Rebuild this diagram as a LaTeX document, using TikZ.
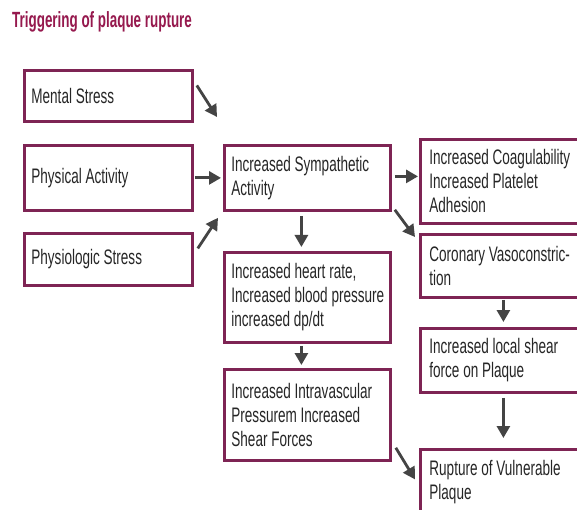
\documentclass[tikz,border=0pt]{standalone}
\usepackage{fontspec}
\setmainfont{Liberation Sans}[FakeStretch=0.645]
\newfontfamily\titlefont{Liberation Sans}[FakeStretch=0.61]
\usepackage{xcolor}
\usepackage{tikz}
\usetikzlibrary{positioning,arrows.meta,calc}
\hyphenpenalty=10000
\exhyphenpenalty=10000
\definecolor{plum}{HTML}{7E2454}
\definecolor{ttl}{HTML}{96194E}
\definecolor{arc}{HTML}{444444}
\tikzset{
  blk/.style = {draw=plum, line width=2.8pt, anchor=north west, align=flush left,
                inner xsep=7pt, inner ysep=0pt, fill=white,
                font=\fontsize{21}{24}\selectfont, text=black!85},
  lft/.style = {blk, text width=154pt},
  mid/.style = {blk, text width=152pt},
  rgt/.style = {blk, text width=156pt, inner xsep=9pt},
  ar/.style  = {-{Triangle[length=12pt,width=13pt]}, line width=2.8pt, draw=arc},
}
\begin{document}
\begin{tikzpicture}[x=1pt,y=-1pt]
  \useasboundingbox[fill=white] (0,0) rectangle (577,510);

  % --- title ---
  \node[anchor=west, inner sep=0pt, text=ttl,
        font=\titlefont\bfseries\fontsize{22}{24}\selectfont] (title) at (12,22)
       {Triggering of plaque rupture};

  % --- triggers ---
  \node[lft, minimum height=51pt] (ment) at (23,69) {Mental Stress};
  \node[lft, minimum height=65pt] (phys) at (23,144) {Physical Activity};
  \node[lft, minimum height=52pt] (physio) at (23,232) {Physiologic Stress};

  % --- middle column ---
  \node[mid, minimum height=65pt] (symp) at (223,144)
       {Increased Sympathetic\\Activity};
  \node[mid, minimum height=90pt] (heart) at (223,251)
       {Increased heart rate,\\\mbox{Increased blood pressure}\\increased dp/dt};
  \node[mid, minimum height=91pt] (intra) at (223,368)
       {Increased Intravascular\\Pressurem Increased\\Shear Forces};

  % --- right column ---
  \node[rgt, minimum height=84pt] (coag) at (419,138)
       {Increased Coagulability\\Increased Platelet\\Adhesion};
  \node[rgt, minimum height=63pt] (coro) at (419,233)
       {Coronary Vasoconstric-\\tion};
  \node[rgt, minimum height=64pt] (shear) at (419,327)
       {Increased local shear\\force on Plaque};
  \node[rgt, minimum height=66pt] (rupt) at (419,448)
       {Rupture of Vulnerable\\Plaque};

  % --- arrows ---
  \draw[ar] ([xshift=3pt,yshift=10.5pt]ment.east) -- ([xshift=-6pt,yshift=27pt]symp.north west);
  \draw[ar, shorten <=1pt, shorten >=2pt] (phys.east) -- (symp.west);
  \draw[ar] ([xshift=4pt,yshift=11pt]physio.east) -- ([xshift=-5pt,yshift=-6pt]symp.south west);
  \draw[ar, shorten <=4pt, shorten >=4pt] ([xshift=-6pt]symp.south) -- ([xshift=-6pt]heart.north);
  \draw[ar, shorten <=3pt, shorten >=1pt] ([yshift=1.5pt]symp.east) -- ([yshift=1.5pt]symp.east -| coag.west);
  \draw[ar] ([xshift=3pt,yshift=2pt]symp.south east) -- ([xshift=-4pt,yshift=-4pt]coro.north west);
  \draw[ar, shorten <=1pt, shorten >=5pt] ([xshift=-4pt]coro.south) -- ([xshift=-4pt]shear.north);
  \draw[ar, shorten <=2pt, shorten >=3pt] ([xshift=-6pt]heart.south) -- ([xshift=-6pt]intra.north);
  \draw[ar, shorten <=4pt, shorten >=10pt] ([xshift=-4pt]shear.south) -- ([xshift=-4pt]rupt.north);
  \draw[ar] ([xshift=4pt,yshift=14pt]intra.south east) -- ([xshift=-4pt,yshift=3pt]rupt.west);
\end{tikzpicture}
\end{document}
